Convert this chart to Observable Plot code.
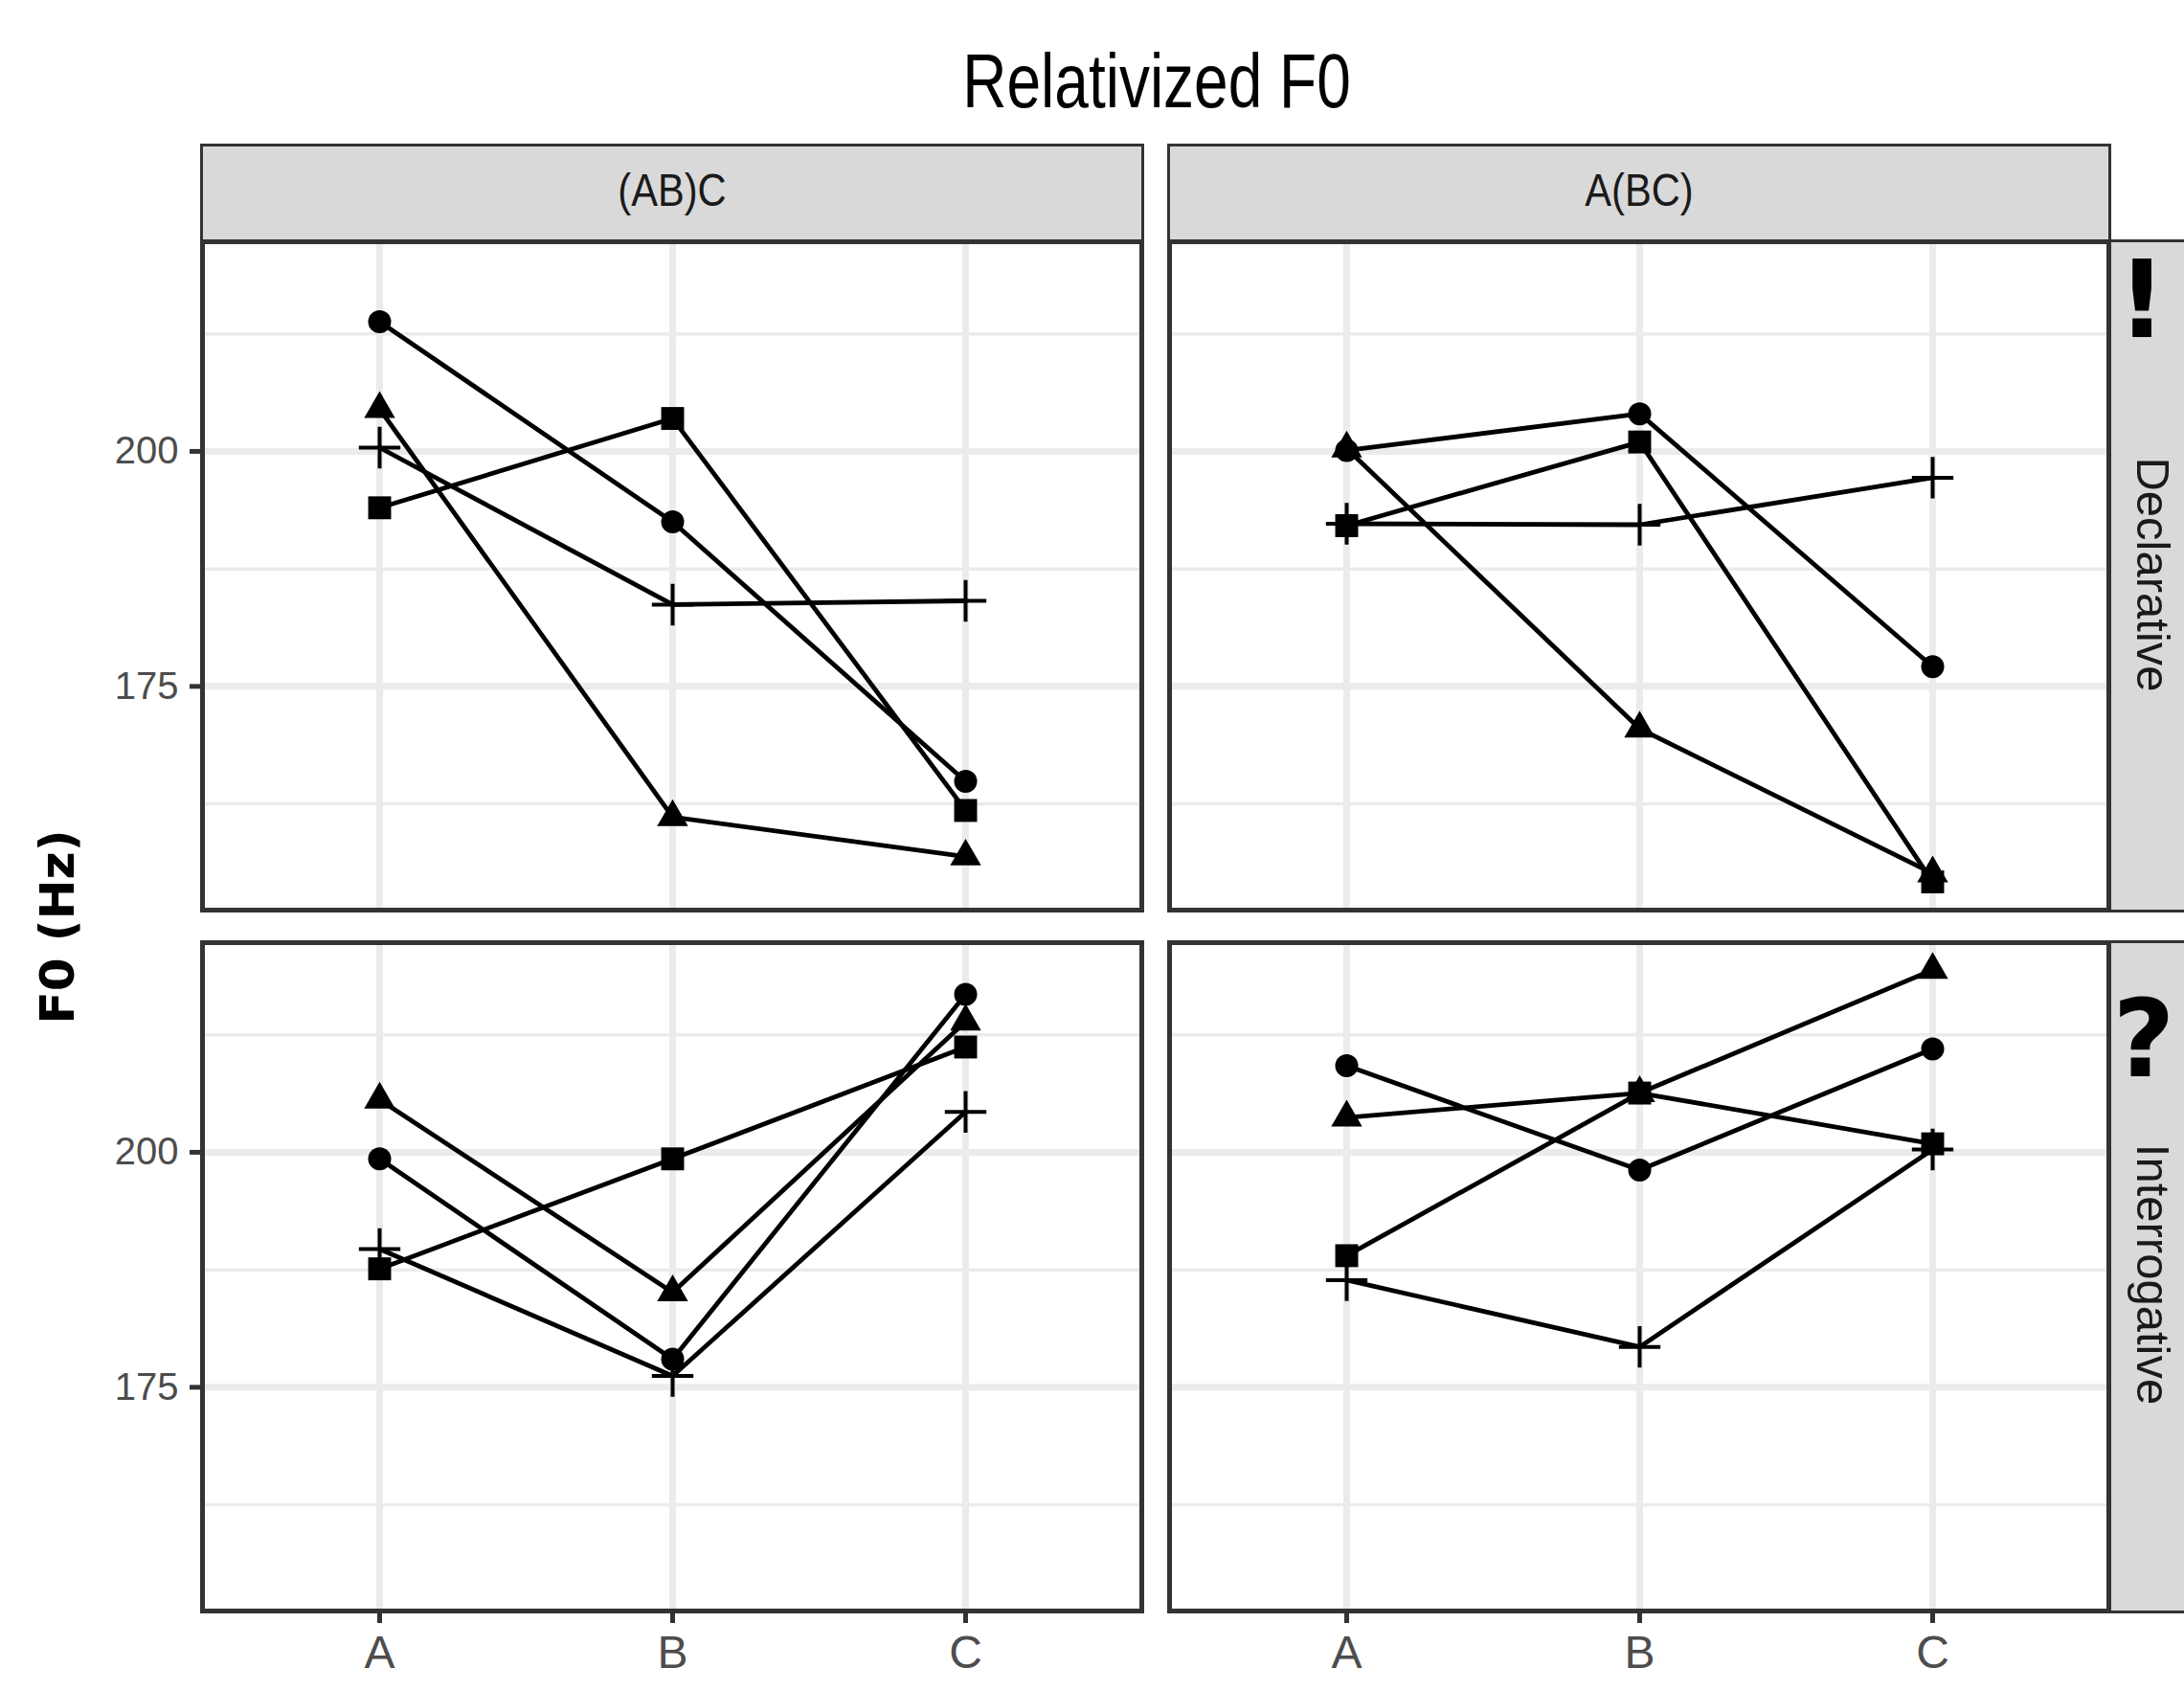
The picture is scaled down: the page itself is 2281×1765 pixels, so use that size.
<!DOCTYPE html>
<html>
<head>
<meta charset="utf-8">
<script src="https://cdn.jsdelivr.net/npm/d3@7"></script>
<script src="https://cdn.jsdelivr.net/npm/@observablehq/plot@0.6"></script>
<style>
  html, body { margin: 0; padding: 0; background: #fff; }
  #wrap { position: relative; width: 2281px; height: 1765px; overflow: hidden; background: #fff; }
  .sans { font-family: "Liberation Sans", Arial, sans-serif; }
  #title { position: absolute; left: 1208px; top: 85px; transform: translate(-50%, -50%) scaleX(0.8); font-size: 80px; line-height: 1; color: #000; white-space: nowrap; }
  .strip { position: absolute; box-sizing: border-box; background: #d9d9d9; border: 3px solid #333; }
  .stripLab { position: absolute; transform: translate(-50%, -50%) scaleX(0.85); font-size: 49px; color: #1a1a1a; white-space: nowrap; line-height: 1; }
  .vlab { position: absolute; font-family: "Liberation Sans", Arial, sans-serif; font-size: 49px; color: #1a1a1a; white-space: nowrap; transform: translate(-50%, -50%) rotate(90deg); line-height: 1; }
  .mark { position: absolute; font-family: "DejaVu Sans", sans-serif; font-weight: bold; font-size: 112px; color: #000; transform: translate(-50%, -50%); line-height: 1; }
  #ylab { position: absolute; left: 60px; top: 968px; transform: translate(-50%, -50%) rotate(-90deg); font-family: "DejaVu Sans", sans-serif; font-weight: bold; font-size: 50px; white-space: nowrap; color: #000; line-height: 1; }
  #chart { position: absolute; left: 0; top: 150px; }
</style>
</head>
<body>
<div id="wrap">
  <div id="title" class="sans">Relativized F0</div>
  <div class="strip" style="left:209px; top:150px; width:986px; height:104px;"></div>
  <div class="strip" style="left:1219px; top:150px; width:986px; height:104px;"></div>
  <div class="stripLab sans" style="left:702px; top:198px;">(AB)C</div>
  <div class="stripLab sans" style="left:1712px; top:198px;">A(BC)</div>
  <div class="strip" style="left:2201px; top:250px; width:110px; height:703px;"></div>
  <div class="strip" style="left:2201px; top:982px; width:110px; height:703px;"></div>
  <div class="mark" style="left:2237px; top:313px;">!</div>
  <div class="vlab" style="left:2248px; top:600px;">Declarative</div>
  <div class="mark" style="left:2239px; top:1085px;">?</div>
  <div class="vlab" style="left:2248px; top:1331px;">Interrogative</div>
  <div id="ylab">F0 (Hz)</div>
  <div id="chart"></div>
</div>
<script>
// Categories
const positions = ["A", "B", "C"];
const structures = ["(AB)C", "A(BC)"];
const types = ["Declarative", "Interrogative"];
// Panel order for the value arrays below (3 values per panel: A, B, C)
const panelStructure = ["(AB)C", "A(BC)", "(AB)C", "A(BC)"];
const panelType = ["Declarative", "Declarative", "Interrogative", "Interrogative"];

// Series values (F0 in Hz)
const circleF0   = [213.8, 192.5, 164.9,  200.1, 204.0, 177.1,  199.3, 178.0, 216.8,  209.2, 198.1, 211.0];
const triangleF0 = [204.5, 161.1, 156.9,  200.3, 170.5, 155.1,  205.6, 185.1, 213.9,  203.7, 206.3, 219.4];
const squareF0   = [194.0, 203.5, 161.8,  192.1, 201.0, 154.2,  187.6, 199.3, 211.2,  189.0, 206.3, 200.9];
const plusF0     = [200.4, 183.7, 184.1,  192.3, 192.2, 197.2,  189.7, 176.2, 204.3,  186.4, 179.3, 200.3];

const seriesNames = ["circle", "triangle", "square", "plus"];
const seriesValues = [circleF0, triangleF0, squareF0, plusF0];

// Axis ticks
const majorTicks = [175, 200];
const minorTicks = [162.5, 187.5, 212.5];
const yDomain = [151.2, 222.3];

// Build a tidy table
const rows = [];
seriesNames.forEach((s, si) => {
  for (let p = 0; p < 4; p++) {
    positions.forEach((pos, i) => {
      rows.push({series: s, structure: panelStructure[p], type: panelType[p], pos, f0: seriesValues[si][p * 3 + i]});
    });
  }
});
const bySeries = (s) => rows.filter(d => d.series === s);
const fc = {fx: "structure", fy: "type", x: "pos", y: "f0"};

const chart = Plot.plot({
  width: 2281,
  height: 1615,
  marginLeft: 211,
  marginRight: 78,
  marginTop: 102,
  marginBottom: 82,
  style: {background: "transparent", overflow: "visible"},
  fx: {domain: structures, paddingInner: 0.0287, paddingOuter: 0, axis: null},
  fy: {domain: types, paddingInner: 0.0464, paddingOuter: 0, axis: null},
  x: {type: "point", domain: positions, padding: 0.6},
  y: {domain: yDomain},
  marks: [
    Plot.gridY({ticks: minorTicks, stroke: "#ebebeb", strokeOpacity: 1, strokeWidth: 3.5}),
    Plot.gridY({ticks: majorTicks, stroke: "#ebebeb", strokeOpacity: 1, strokeWidth: 7}),
    Plot.gridX({stroke: "#ebebeb", strokeOpacity: 1, strokeWidth: 7}),
    Plot.axisY({ticks: majorTicks, label: null, tickSize: 13, tickPadding: 12, stroke: "#333", strokeWidth: 5,
      fill: "#4d4d4d", fontSize: 40, fontFamily: "Liberation Sans, Arial, sans-serif"}),
    Plot.axisX({label: null, tickSize: 13, tickPadding: 12, stroke: "#333", strokeWidth: 5,
      fill: "#4d4d4d", fontSize: 48, fontFamily: "Liberation Sans, Arial, sans-serif"}),
    Plot.line(rows, {...fc, z: "series", stroke: "#000", strokeWidth: 4.8}),
    Plot.dot(bySeries("circle"), {...fc, symbol: "circle", r: 12, fill: "#000", stroke: "none"}),
    Plot.dot(bySeries("triangle"), {...fc, symbol: "triangle", r: 12, fill: "#000", stroke: "none"}),
    Plot.dot(bySeries("square"), {...fc, symbol: "square", r: 13.5, fill: "#000", stroke: "none"}),
    Plot.dot(bySeries("plus"), {...fc, symbol: "plus", r: 14, fill: "none", stroke: "#000", strokeWidth: 4}),
    Plot.frame({stroke: "#333", strokeWidth: 5})
  ]
});
document.getElementById("chart").appendChild(chart);
</script>
</body>
</html>
